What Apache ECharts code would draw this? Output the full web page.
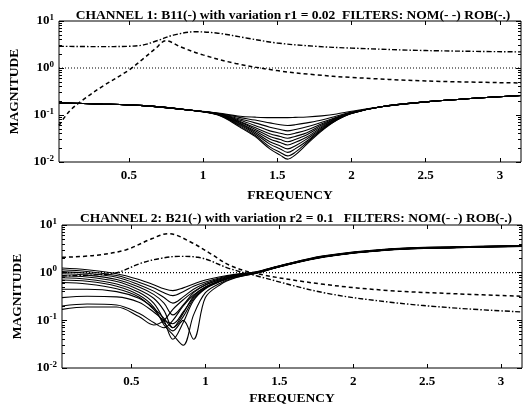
<!DOCTYPE html>
<html>
<head>
<meta charset="utf-8">
<script src="https://cdn.jsdelivr.net/npm/echarts@6/dist/echarts.min.js"></script>
<style>
html,body{margin:0;padding:0;background:#fff}
#chart{width:524px;height:407px}
</style>
</head>
<body>
<div id="chart"></div>
<script>
/********** data **********/
var xTicks = [0.5, 1, 1.5, 2, 2.5, 3];
var refFreq = [0.03, 3.1416];
var refMag = [1, 1];

// channel 1 : B11 family (solid)
var freq1 = [0.03, 0.3, 0.6, 0.9, 1.1, 1.25, 1.35, 1.45, 1.52, 1.57, 1.62, 1.7, 1.8, 1.9, 2.0, 2.2, 2.5, 2.8, 3.1416];
var b11 = [
    [0.18,0.172,0.158,0.128,0.110,0.094,0.090,0.088,0.088,0.088,0.089,0.091,0.096,0.105,0.120,0.15,0.19,0.225,0.26],
    [0.18,0.172,0.158,0.128,0.109,0.088,0.078,0.068,0.062,0.060,0.062,0.068,0.078,0.095,0.115,0.15,0.19,0.225,0.26],
    [0.18,0.172,0.158,0.128,0.108,0.082,0.068,0.055,0.049,0.046,0.049,0.056,0.070,0.090,0.113,0.15,0.19,0.225,0.26],
    [0.18,0.172,0.158,0.128,0.107,0.077,0.060,0.046,0.041,0.038,0.041,0.048,0.065,0.087,0.112,0.15,0.19,0.225,0.26],
    [0.18,0.172,0.158,0.128,0.106,0.073,0.054,0.040,0.035,0.032,0.035,0.042,0.061,0.085,0.111,0.15,0.19,0.225,0.26],
    [0.18,0.172,0.158,0.128,0.105,0.070,0.050,0.035,0.030,0.027,0.030,0.038,0.058,0.083,0.110,0.15,0.19,0.225,0.26],
    [0.18,0.172,0.158,0.128,0.104,0.067,0.046,0.031,0.026,0.023,0.026,0.034,0.055,0.081,0.110,0.15,0.19,0.225,0.26],
    [0.18,0.172,0.158,0.128,0.103,0.064,0.043,0.027,0.022,0.019,0.022,0.031,0.052,0.080,0.109,0.15,0.19,0.225,0.26],
    [0.18,0.172,0.158,0.128,0.102,0.061,0.040,0.024,0.019,0.016,0.019,0.028,0.050,0.079,0.109,0.15,0.19,0.225,0.26],
    [0.18,0.172,0.158,0.128,0.101,0.058,0.037,0.021,0.016,0.0135,0.016,0.026,0.048,0.078,0.108,0.15,0.19,0.225,0.26],
    [0.18,0.172,0.158,0.128,0.100,0.055,0.035,0.019,0.014,0.0115,0.014,0.024,0.046,0.077,0.108,0.15,0.19,0.225,0.26]
];
// channel 1 : filters
var nomFreq1 = [0.03, 0.1, 0.2, 0.33, 0.5, 0.6, 0.68, 0.75, 0.85, 1.0, 1.22, 1.5, 1.75, 2.0, 2.5, 3.1416];
var nomMag1  = [0.06, 0.12, 0.22, 0.42, 0.9, 1.6, 2.6, 3.8, 2.8, 1.9, 1.25, 0.88, 0.72, 0.63, 0.53, 0.48];
var robFreq1 = [0.03, 0.3, 0.5, 0.6, 0.7, 0.8, 0.95, 1.1, 1.3, 1.5, 1.75, 2.0, 2.5, 3.1416];
var robMag1  = [2.9, 2.85, 2.9, 3.1, 3.9, 5.0, 5.9, 5.5, 4.3, 3.4, 2.9, 2.65, 2.35, 2.2];

// channel 2 : B21 family (solid)
var freq2 = [0.03, 0.2, 0.4, 0.55, 0.65, 0.72, 0.78, 0.85, 0.92, 1.0, 1.1, 1.2, 1.35, 1.5, 1.8, 2.25, 2.7, 3.1416];
var b21 = [
    [1.25,1.15,0.95,0.72,0.56,0.46,0.42,0.48,0.58,0.70,0.82,0.92,1.05,1.40,2.25,3.15,3.50,3.70],
    [1.15,1.06,0.87,0.63,0.48,0.38,0.33,0.40,0.52,0.64,0.78,0.90,1.04,1.38,2.22,3.12,3.48,3.68],
    [1.05,0.97,0.80,0.56,0.41,0.30,0.23,0.31,0.45,0.59,0.75,0.88,1.03,1.37,2.20,3.10,3.45,3.65],
    [0.95,0.89,0.72,0.50,0.35,0.23,0.13,0.21,0.38,0.55,0.72,0.86,1.02,1.36,2.18,3.08,3.43,3.62],
    [0.86,0.81,0.65,0.44,0.29,0.16,0.07,0.14,0.32,0.50,0.68,0.84,1.01,1.35,2.16,3.06,3.40,3.60],
    [0.78,0.73,0.58,0.39,0.23,0.10,0.04,0.09,0.26,0.46,0.65,0.82,1.00,1.34,2.15,3.04,3.38,3.58],
    [0.70,0.66,0.52,0.34,0.19,0.08,0.05,0.03,0.13,0.38,0.60,0.79,0.99,1.33,2.14,3.02,3.36,3.56],
    [0.62,0.58,0.46,0.31,0.17,0.09,0.06,0.10,0.04,0.30,0.56,0.77,0.98,1.32,2.12,3.00,3.34,3.54],
    [0.45,0.45,0.40,0.29,0.18,0.11,0.07,0.12,0.28,0.47,0.66,0.83,1.00,1.34,2.15,3.04,3.38,3.57],
    [0.30,0.32,0.31,0.24,0.15,0.10,0.085,0.15,0.30,0.48,0.67,0.83,1.00,1.34,2.16,3.05,3.40,3.60],
    [0.20,0.22,0.21,0.14,0.09,0.07,0.10,0.20,0.34,0.50,0.68,0.84,1.01,1.35,2.17,3.07,3.42,3.62],
    [0.17,0.19,0.19,0.12,0.08,0.10,0.17,0.27,0.40,0.55,0.71,0.86,1.02,1.36,2.18,3.08,3.44,3.64]
];
// channel 2 : filters
var nomFreq2 = [0.03, 0.25, 0.46, 0.64, 0.75, 0.9, 1.04, 1.17, 1.35, 1.8, 2.25, 2.7, 3.1416];
var nomMag2  = [2.1, 2.3, 3.0, 5.2, 6.6, 4.4, 2.45, 1.4, 0.95, 0.57, 0.42, 0.36, 0.32];
var robFreq2 = [0.03, 0.25, 0.4, 0.57, 0.7, 0.82, 0.95, 1.17, 1.35, 1.8, 2.25, 2.7, 3.1416];
var robMag2  = [0.85, 0.9, 1.0, 1.6, 2.0, 2.2, 2.1, 1.2, 0.85, 0.38, 0.24, 0.18, 0.15];

var titles = [
    'CHANNEL 1: B11(-) with variation r1 = 0.02  FILTERS: NOM(- -) ROB(-.)',
    'CHANNEL 2: B21(-) with variation r2 = 0.1   FILTERS: NOM(- -) ROB(-.)'
];

/********** helpers **********/
var FONT = '"Liberation Serif", "DejaVu Serif", serif';

function pairs(xs, ys) {
    return xs.map(function (x, i) { return [x, ys[i]]; });
}

function lineSeries(idx, xs, ys, style) {
    return {
        type: 'line', xAxisIndex: idx * 2, yAxisIndex: idx * 2,
        data: pairs(xs, ys), symbol: 'none', smooth: style.smooth || 0,
        silent: true, z: style.z || 2,
        lineStyle: { color: '#000', width: style.width, type: style.type }
    };
}

function xAxes(idx, gap) {
    var base = {
        type: 'value', gridIndex: idx, min: 0.03, max: 3.1416,
        splitLine: { show: false }, axisLine: { show: false }
    };
    var bottom = Object.assign({}, base, {
        position: 'bottom',
        name: 'FREQUENCY', nameLocation: 'middle', nameGap: gap,
        nameTextStyle: { fontFamily: FONT, fontWeight: 'bold', fontSize: 13.5, color: '#000' },
        axisTick: { inside: true, length: 4, customValues: xTicks, lineStyle: { color: '#000' } },
        axisLabel: { customValues: xTicks, margin: 7, fontFamily: FONT, fontWeight: 'bold', fontSize: 13, color: '#000' }
    });
    var top = Object.assign({}, base, {
        position: 'top',
        axisTick: { inside: true, length: 4, customValues: xTicks, lineStyle: { color: '#000' } },
        axisLabel: { show: false }
    });
    return [bottom, top];
}

function yAxes(idx) {
    var base = {
        type: 'log', logBase: 10, gridIndex: idx, min: 0.01, max: 10,
        splitLine: { show: false }, axisLine: { show: false },
        axisTick: { inside: true, length: 5, lineStyle: { color: '#000' } },
        minorTick: { show: true, splitNumber: 9, length: 3, lineStyle: { color: '#000' } }
    };
    var left = Object.assign({}, base, {
        position: 'left',
        name: 'MAGNITUDE', nameLocation: 'middle', nameGap: 37, nameRotate: 90,
        nameTextStyle: { fontFamily: FONT, fontWeight: 'bold', fontSize: 13.5, color: '#000' },
        axisLabel: {
            margin: 5,
            formatter: function (v) {
                var e = Math.round(Math.log(v) / Math.LN10);
                return '{b|10}{s|' + e + '}';
            },
            rich: {
                b: { fontFamily: FONT, fontWeight: 'bold', fontSize: 13, color: '#000' },
                s: { fontFamily: FONT, fontWeight: 'bold', fontSize: 9, color: '#000', padding: [0, 0, 7, 0] }
            }
        }
    });
    var right = Object.assign({}, base, { position: 'right', axisLabel: { show: false } });
    return [left, right];
}

function channelSeries(idx, freq, family, nomF, nomM, robF, robM) {
    var out = [];
    family.forEach(function (vals) {
        out.push(lineSeries(idx, freq, vals, { width: 1.1, type: 'solid', smooth: 0.35 }));
    });
    out.push(lineSeries(idx, refFreq, refMag, { width: 1.2, type: [1, 2] }));
    out.push(lineSeries(idx, nomF, nomM, { width: 1.5, type: [4, 3], smooth: 0.35, z: 3 }));
    out.push(lineSeries(idx, robF, robM, { width: 1.4, type: [5, 2, 1.5, 2], smooth: 0.35, z: 3 }));
    return out;
}

/********** chart **********/
var chart = echarts.init(document.getElementById('chart'), null, { renderer: 'canvas' });

var xs = xAxes(0, 27).concat(xAxes(1, 24));
var ys = yAxes(0).concat(yAxes(1));

var option = {
    animation: false,
    backgroundColor: '#fff',
    title: [
        { text: titles[0], left: 288, top: 4, textAlign: 'center',
          textStyle: { fontFamily: FONT, fontWeight: 'bold', fontSize: 13.5, color: '#000' } },
        { text: titles[1], left: 291, top: 207, textAlign: 'center',
          textStyle: { fontFamily: FONT, fontWeight: 'bold', fontSize: 13.5, color: '#000' } }
    ],
    grid: [
        { left: 55, top: 21, width: 466, height: 141, show: true, borderColor: '#000', borderWidth: 1 },
        { left: 62, top: 225, width: 460, height: 144, show: true, borderColor: '#000', borderWidth: 1 }
    ],
    xAxis: xs.map(function (a, i) {
        return Object.assign(a, { gridIndex: i < 2 ? 0 : 1 });
    }),
    yAxis: ys.map(function (a, i) {
        return Object.assign(a, { gridIndex: i < 2 ? 0 : 1 });
    }),
    series: channelSeries(0, freq1, b11, nomFreq1, nomMag1, robFreq1, robMag1)
        .concat(channelSeries(1, freq2, b21, nomFreq2, nomMag2, robFreq2, robMag2))
};

chart.setOption(option);
</script>
</body>
</html>
